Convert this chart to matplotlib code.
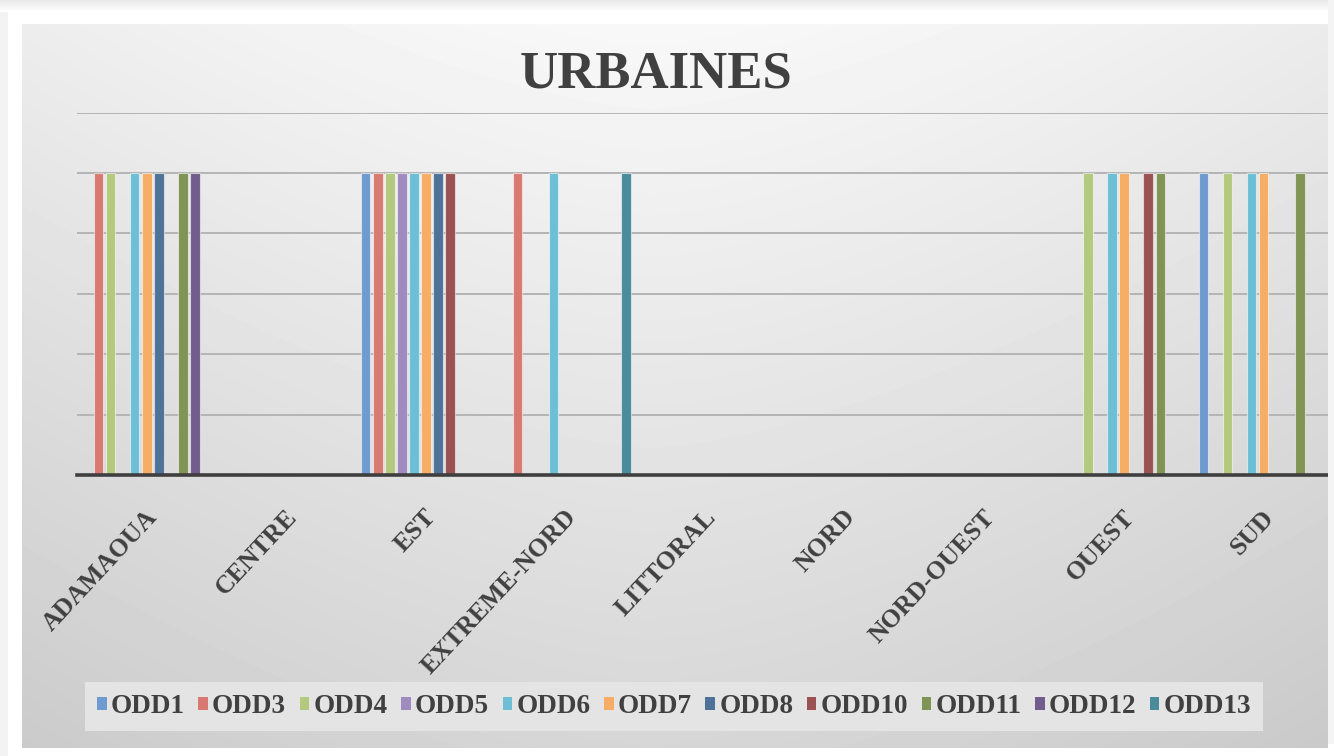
import numpy as np
import matplotlib
matplotlib.use("Agg")
import matplotlib.pyplot as plt
from matplotlib.patches import Rectangle
from matplotlib.transforms import ScaledTranslation

# data
regions = ['ADAMAOUA', 'CENTRE', 'EST', 'EXTREME-NORD', 'LITTORAL',
           'NORD', 'NORD-OUEST', 'OUEST', 'SUD']
series = ['ODD1', 'ODD3', 'ODD4', 'ODD5', 'ODD6', 'ODD7',
          'ODD8', 'ODD10', 'ODD11', 'ODD12', 'ODD13']
# one row per region, one column per series (1 = present)
adamaoua = [0, 1, 1, 0, 1, 1, 1, 0, 1, 1, 0]
centre = [0, 0, 0, 0, 0, 0, 0, 0, 0, 0, 0]
est = [1, 1, 1, 1, 1, 1, 1, 1, 0, 0, 0]
extreme_nord = [0, 1, 0, 0, 1, 0, 0, 0, 0, 0, 1]
littoral = [0, 0, 0, 0, 0, 0, 0, 0, 0, 0, 0]
nord = [0, 0, 0, 0, 0, 0, 0, 0, 0, 0, 0]
nord_ouest = [0, 0, 0, 0, 0, 0, 0, 0, 0, 0, 0]
ouest = [0, 0, 1, 0, 1, 1, 0, 1, 1, 0, 0]
sud = [1, 0, 1, 0, 1, 1, 0, 0, 1, 0, 0]

values = np.array([adamaoua, centre, est, extreme_nord, littoral,
                   nord, nord_ouest, ouest, sud])

colors = ['#6f9bd1', '#d87a72', '#b3c97e', '#a08bbf', '#6dbfd6', '#f6ad66',
          '#4f7398', '#9a5252', '#7f9455', '#725c8c', '#4a8c9c']

W, H = 1334, 756
fig = plt.figure(figsize=(W / 100, H / 100), dpi=100)
fig.patch.set_facecolor('white')

# background (chart area with soft gradient)
bg = fig.add_axes([0, 0, 1, 1], zorder=0)
bg.set_xlim(0, W)
bg.set_ylim(H, 0)
bg.axis('off')
yy, xx = np.mgrid[0:724, 0:1306]
shade = 248 - 34 * (yy / 724) - 12 * (np.abs(xx + 22 - 650) / 650) ** 1.5
shade = np.clip(shade, 0, 255) / 255
bg.imshow(shade, cmap='gray', vmin=0, vmax=1, extent=(22, 1328, 748, 24),
          aspect='auto', interpolation='bilinear')
top = np.linspace(0.91, 1.0, 12).reshape(-1, 1)
bg.imshow(top, cmap='gray', vmin=0, vmax=1, extent=(0, W, 12, 0),
          aspect='auto', interpolation='bilinear')
bg.add_patch(Rectangle((0, 12), 8, H, color='#f3f3f3', lw=0))

# plot area
left, bottom = 77 / W, (H - 475) / H
ax = fig.add_axes([left, bottom, 1333.5 / W - left, 362.4 / H], zorder=1)
ax.set_facecolor('none')

n = len(series)
slot = 0.0864
bw = 0.068
x = np.arange(len(regions))
for i, name in enumerate(series):
    ax.bar(x + (i - (n - 1) / 2) * slot, values[:, i], width=bw,
           color=colors[i], edgecolor=(1, 1, 1, 0.55), linewidth=0.8,
           label=name, zorder=3)

ax.set_xlim(-0.5, len(regions) - 0.5)
ax.set_ylim(0, 1.2)
ax.set_yticks(np.arange(0, 1.21, 0.2))
ax.set_yticklabels([])
ax.yaxis.grid(True, color='#b4b4b4', linewidth=1.4)
ax.set_axisbelow(True)
ax.tick_params(axis='both', length=0)
for s in ['top', 'left', 'right']:
    ax.spines[s].set_visible(False)
ax.spines['bottom'].set_color('#3f3f3f')
ax.spines['bottom'].set_linewidth(2.6)
ax.spines['bottom'].set_zorder(4)

ax.set_xticks(x, regions)
ax.tick_params(axis='x', pad=22)
for lab in ax.get_xticklabels():
    lab.set_rotation(47)
    lab.set_ha('right')
    lab.set_rotation_mode('anchor')
    lab.set_fontfamily('Liberation Serif')
    lab.set_fontweight('bold')
    lab.set_fontsize(18.5)
    lab.set_color('#404040')
    lab.set_transform(lab.get_transform() +
                      ScaledTranslation(-0.02, 0, fig.dpi_scale_trans))

fig.text(656 / W, 1 - 88 / H, 'URBAINES', ha='center', va='baseline',
         fontsize=38, fontweight='bold', family='Liberation Serif',
         color='#404040')

leg = fig.legend(loc='center', bbox_to_anchor=(674 / W, 1 - 706.5 / H),
                 ncol=n, frameon=True, facecolor='#e4e4e4', edgecolor='none',
                 framealpha=1, fancybox=False, handlelength=0.36,
                 handleheight=0.36, handletextpad=0.15, columnspacing=0.5,
                 borderpad=0.45, prop={'family': 'Liberation Serif',
                                       'weight': 'bold', 'size': 19.5})
for t in leg.get_texts():
    t.set_color('#404040')
for h in leg.legend_handles:
    h.set_edgecolor('none')

fig.patches.append(Rectangle((1328 / W, 12 / H), 6 / W, 1, color='#f4f4f4',
                             lw=0, transform=fig.transFigure, zorder=20,
                             figure=fig))

fig.savefig('out.png', dpi=100)
